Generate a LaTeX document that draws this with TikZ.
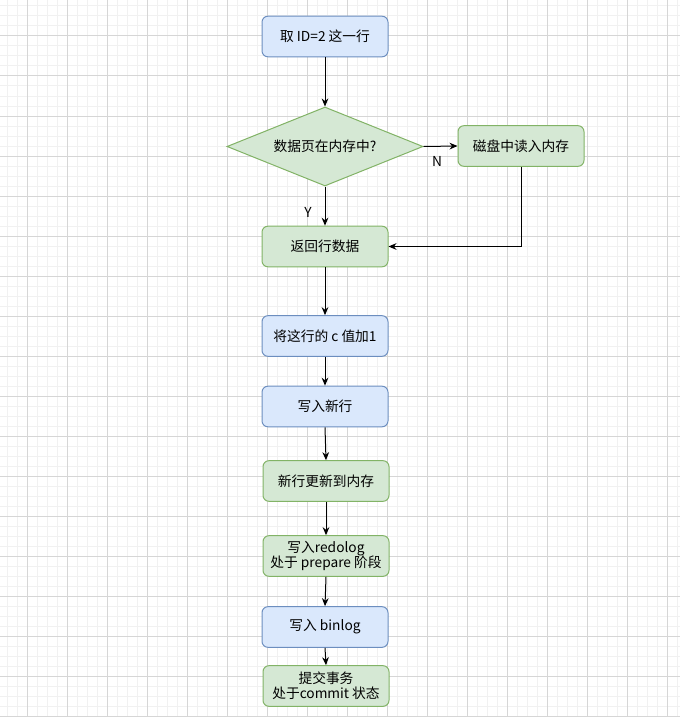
\documentclass[tikz,border=0pt]{standalone}
\usepackage{fontspec}
\setmainfont{Noto Sans CJK SC}
\usetikzlibrary{arrows.meta,shapes.geometric}
\definecolor{bluefill}{HTML}{DAE8FC}
\definecolor{bluedraw}{HTML}{6C8EBF}
\definecolor{greenfill}{HTML}{D5E8D4}
\definecolor{greendraw}{HTML}{82B366}
\definecolor{gridmajor}{HTML}{D6D6D6}
\definecolor{gridminor}{HTML}{F1F1F1}
\begin{document}
\begin{tikzpicture}[x=0.75pt,y=-0.75pt,
  every node/.style={font=\fontsize{10.3pt}{11.4pt}\selectfont},
  box/.style={rectangle, rounded corners=4.5pt, line width=0.75pt,
    minimum width=94.5pt, minimum height=30.5pt, inner sep=1pt, align=center},
  bluebox/.style={box, draw=bluedraw, fill=bluefill},
  greenbox/.style={box, draw=greendraw, fill=greenfill},
  decision/.style={diamond, draw=greendraw, fill=greenfill, line width=0.75pt,
    minimum width=147pt, minimum height=59.25pt, inner sep=0pt, aspect=2.48},
  conn/.style={line width=0.75pt, -{Stealth[length=6pt,width=5pt]}},
  lbl/.style={inner sep=0pt}
]
\useasboundingbox (0,0) rectangle (680,717);
\fill[white] (0,0) rectangle (680,717);
\foreach \x in {7,17,...,677} \draw[gridminor, line width=0.75pt] (\x,0) -- (\x,717);
\foreach \y in {6,16,...,716} \draw[gridminor, line width=0.75pt] (0,\y) -- (680,\y);
\foreach \x in {27,67,...,667} \draw[gridmajor, line width=0.75pt] (\x,0) -- (\x,717);
\foreach \y in {36,76,...,716} \draw[gridmajor, line width=0.75pt] (0,\y) -- (680,\y);

\node[bluebox] (n1) at (325,36.5) {取 ID=2 这一行};
\node[decision] (dia) at (325,146.5) {数据页在内存中?};
\node[greenbox] (disk) at (521,146) {磁盘中读入内存};
\node[greenbox] (ret) at (325,246.5) {返回行数据};
\node[bluebox] (n4) at (325,336) {将这行的 c 值加1};
\node[bluebox] (n5) at (325,406.5) {写入新行};
\node[greenbox] (n6) at (326,481) {新行更新到内存};
\node[greenbox] (n7) at (326,556) {写入redolog\\处于 prepare 阶段};
\node[bluebox] (n8) at (325,627) {写入 binlog};
\node[greenbox] (n9) at (326,686) {提交事务\\处于commit 状态};

\node[lbl] (ln) at (437,161) {N};
\node[lbl] (ly) at (308,212) {Y};

\draw[conn] (n1) -- (dia);
\draw[conn] (dia.east) -- (disk.west);
\draw[conn] (disk.south) |- (ret.east);
\draw[conn] (dia.south) -- (ret.north);
\draw[conn] (ret) -- (n4);
\draw[conn] (n4) -- (n5);
\draw[conn] (n5.south) -- (n6.north);
\draw[conn] (n6.south) -- (n7.north);
\draw[conn] (n7.south) -- (n8.north);
\draw[conn] (n8.south) -- (n9.north);
\end{tikzpicture}
\end{document}
